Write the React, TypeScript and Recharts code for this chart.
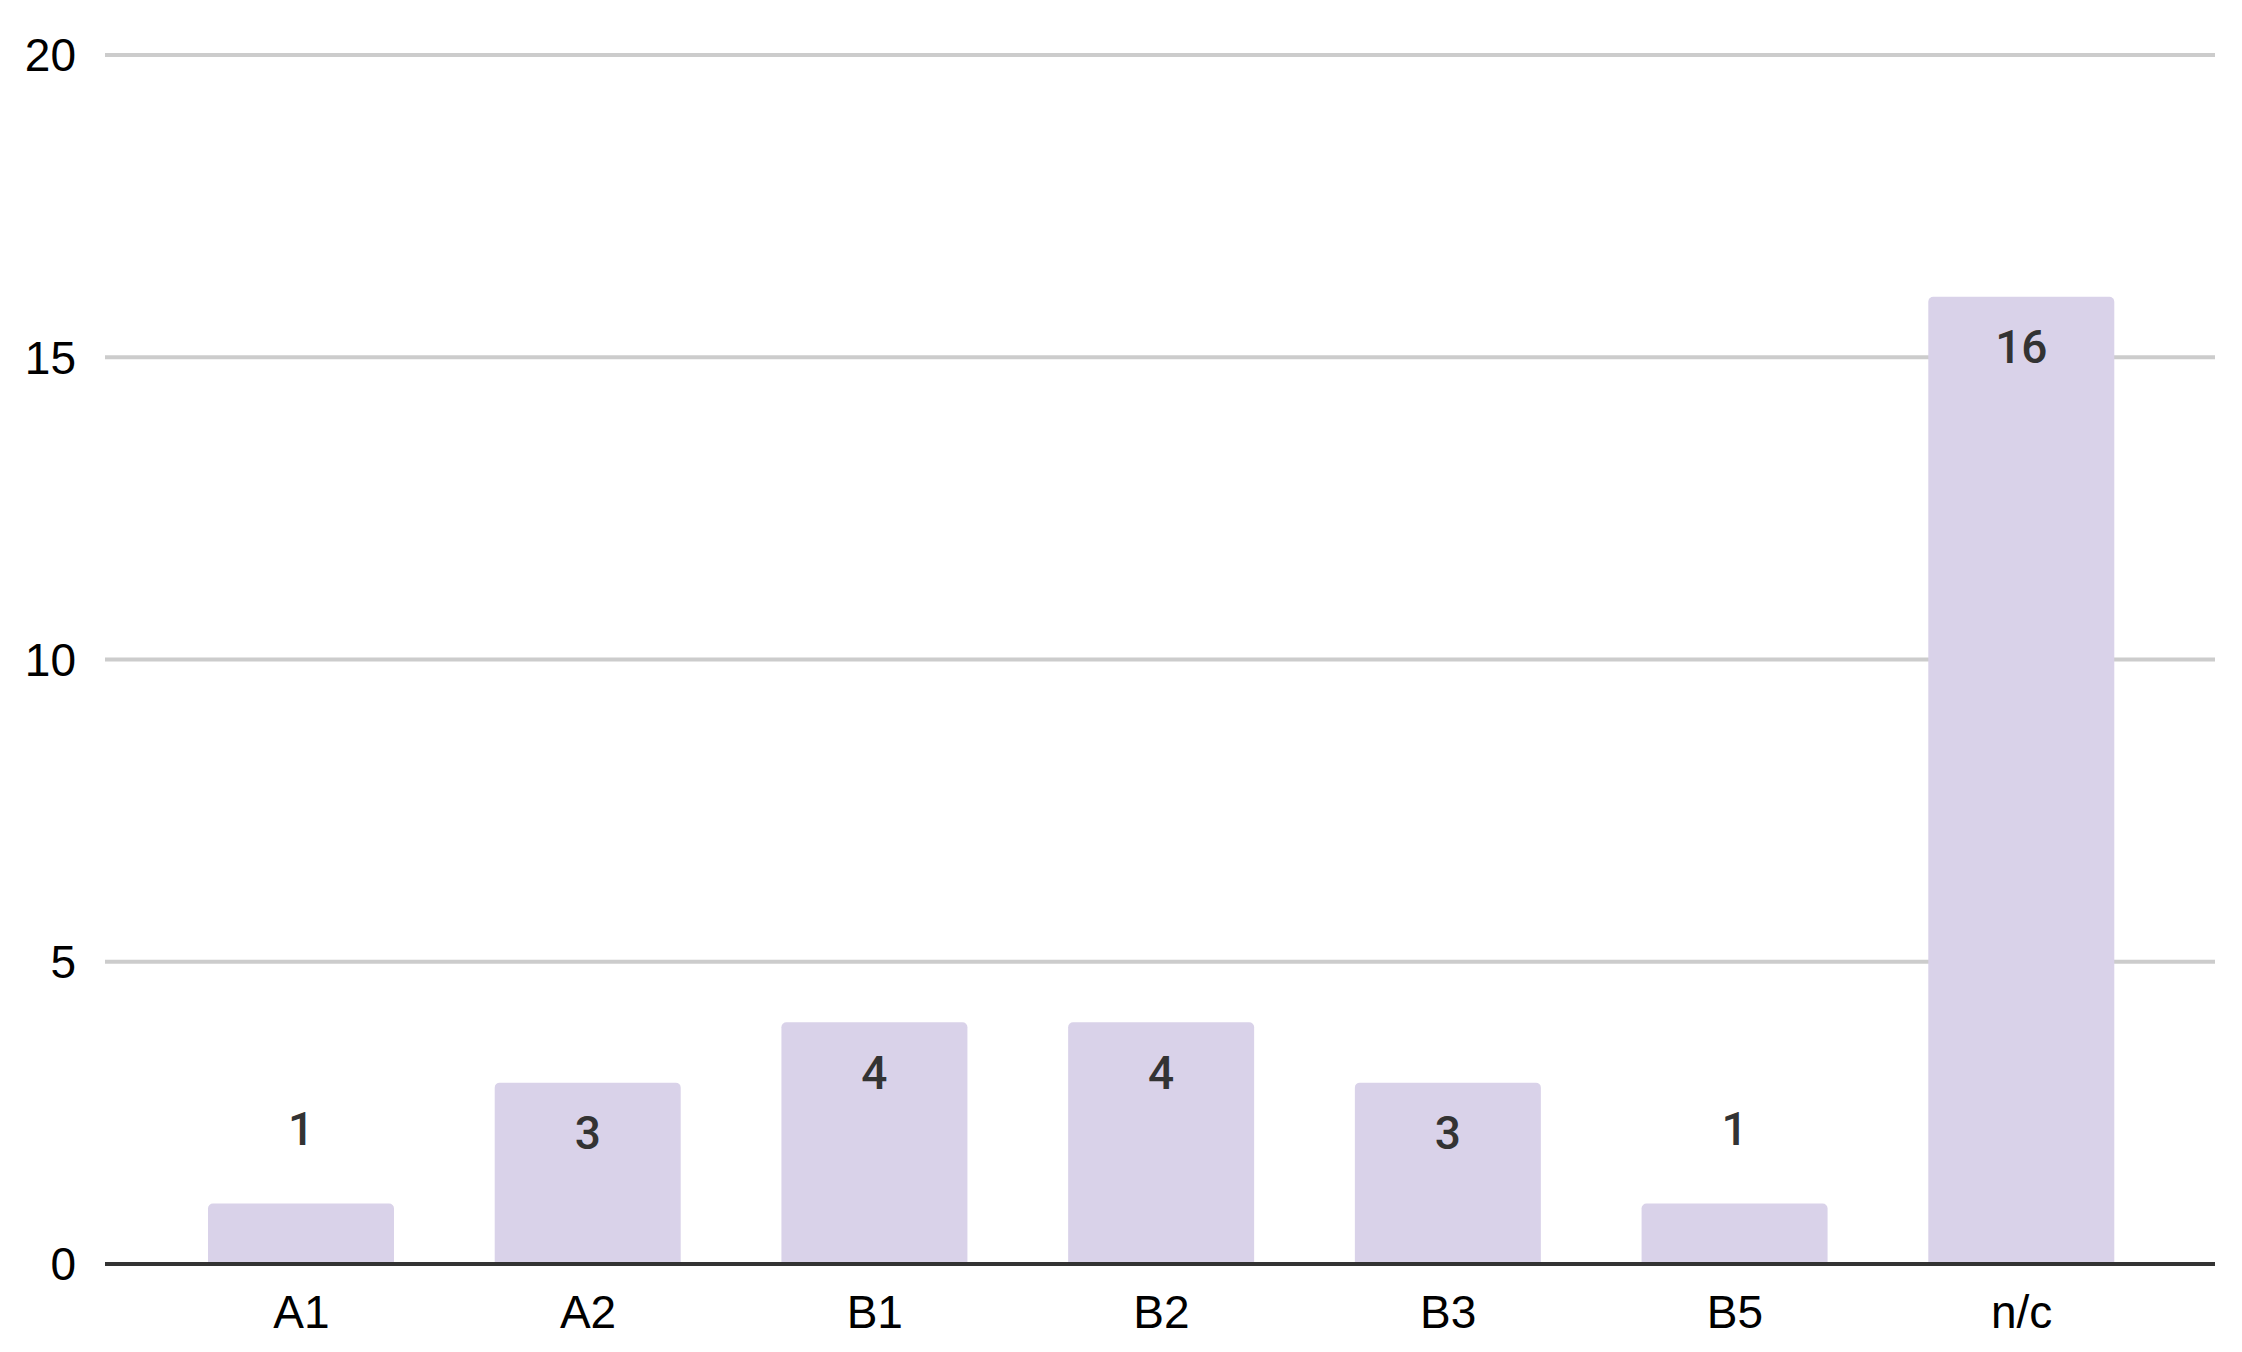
import React from "react";
import { BarChart, Bar, XAxis, YAxis, CartesianGrid, LabelList } from "recharts";

// 카테고리와 값
const categories: string[] = ["A1", "A2", "B1", "B2", "B3", "B5", "n/c"];
const counts: number[] = [1, 3, 4, 4, 3, 1, 16];
const yTicks: number[] = [0, 5, 10, 15, 20];

const data = categories.map((name, i) => ({ name, count: counts[i] }));

// 막대가 충분히 크면 안쪽, 아니면 위쪽에 값 표시
const ValueLabel = (props: any) => {
  const { x, y, width, height, value } = props;
  const inside = height > 100;
  return (
    <text
      x={x + width / 2}
      y={inside ? y + 50 : y - 75}
      dy="0.36em"
      textAnchor="middle"
      fill="#333333"
      fontSize={46}
      fontWeight={500}
      fontFamily="Roboto, 'Liberation Sans', sans-serif"
    >
      {value}
    </text>
  );
};

export default function App(): React.ReactElement {
  return (
    <div style={{ position: "absolute", left: 0, top: 0, background: "#fff" }}>
      <BarChart width={2242} height={1352} data={data} margin={{ top: 55, right: 27, bottom: 8, left: 0 }}>
        <CartesianGrid vertical={false} stroke="#cccccc" strokeWidth={4} />
        <YAxis
          domain={[0, 20]}
          ticks={yTicks}
          width={105}
          axisLine={false}
          tickLine={false}
          tickSize={0}
          tickMargin={29}
          tick={{ fill: "#000", fontSize: 46, fontFamily: "'Liberation Sans', Arial, sans-serif" }}
        />
        <Bar dataKey="count" fill="#d9d2e9" barSize={186} radius={[5, 5, 0, 0]} isAnimationActive={false}>
          <LabelList dataKey="count" content={ValueLabel} />
        </Bar>
        <XAxis
          dataKey="name"
          height={80}
          padding={{ left: 53, right: 50 }}
          axisLine={{ stroke: "#333333", strokeWidth: 4 }}
          tickLine={false}
          tickSize={0}
          tickMargin={31}
          tick={{ fill: "#000", fontSize: 46, fontFamily: "'Liberation Sans', Arial, sans-serif" }}
        />
      </BarChart>
    </div>
  );
}
